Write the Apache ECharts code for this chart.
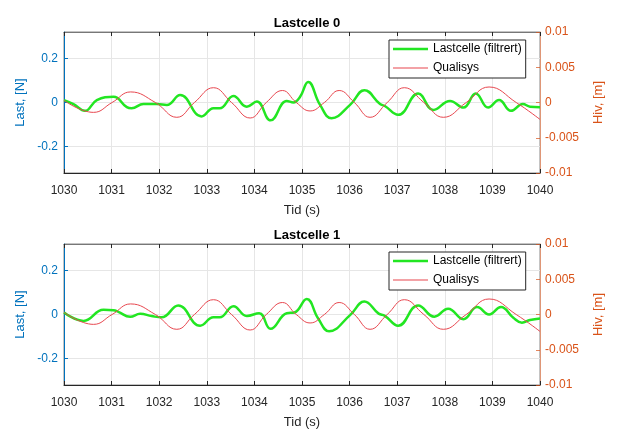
<!DOCTYPE html>
<html><head><meta charset="utf-8">
<script src="https://cdn.jsdelivr.net/npm/echarts@6/dist/echarts.min.js"></script>
<style>html,body{margin:0;padding:0;background:#fff}#c{width:620px;height:432px}</style>
</head><body><div id="c"></div>
<script>
// ---- data ----
const xTicks = [1030,1031,1032,1033,1034,1035,1036,1037,1038,1039,1040];
const leftTicks = [-0.2, 0, 0.2];
const rightTicks = [-0.01, -0.005, 0, 0.005, 0.01];

const titles = ['Lastcelle 0', 'Lastcelle 1'];
const seriesNames = ['Lastcelle (filtrert)', 'Qualisys'];

// Lastcelle 0 (filtered load cell) [N]
const t0 = [1030, 1030.2, 1030.44, 1030.69, 1031.04, 1031.32, 1031.42, 1031.67, 1031.95, 1032.16, 1032.44, 1032.89, 1033.14, 1033.27, 1033.56, 1033.84, 1034.05, 1034.34, 1034.68, 1034.82, 1034.96, 1035.13, 1035.38, 1035.62, 1036.01, 1036.31, 1036.64, 1036.74, 1037.02, 1037.44, 1037.76, 1038.11, 1038.39, 1038.65, 1038.91, 1039.14, 1039.39, 1039.64, 1039.79, 1040];
const v0 = [0.011, -0.007, -0.038, 0.011, 0.026, -0.021, -0.026, -0.007, -0.007, -0.011, 0.034, -0.063, -0.026, -0.026, 0.029, -0.019, 0.004, -0.081, 0.007, 0.0, 0.026, 0.093, -0.011, -0.071, -0.011, 0.056, -0.007, -0.016, -0.056, 0.041, -0.034, 0.007, -0.023, 0.041, -0.023, 0.011, -0.038, -0.007, -0.019, -0.021];

// Lastcelle 1 (filtered load cell) [N]
const t1 = [1030, 1030.41, 1030.83, 1031.04, 1031.14, 1031.39, 1031.6, 1031.84, 1032.05, 1032.40, 1032.86, 1033.14, 1033.27, 1033.56, 1033.84, 1034.10, 1034.34, 1034.68, 1034.84, 1035.10, 1035.34, 1035.57, 1036.01, 1036.31, 1036.61, 1036.74, 1037.02, 1037.44, 1037.78, 1038.07, 1038.39, 1038.68, 1038.93, 1039.18, 1039.44, 1039.62, 1039.79, 1040];
const v1 = [0.009, -0.029, 0.021, 0.019, 0.012, -0.010, 0.003, -0.007, -0.013, 0.041, -0.051, -0.013, -0.013, 0.038, -0.007, 0.006, -0.065, 0.006, 0.009, 0.070, -0.018, -0.076, -0.003, 0.059, 0.004, -0.006, -0.051, 0.041, -0.010, 0.026, -0.021, 0.034, 0.0, 0.034, -0.015, -0.037, -0.025, -0.018];

// Qualisys heave [m]
const tQ = [1030, 1030.62, 1031.01, 1031.40, 1031.92, 1032.37, 1032.74, 1033.14, 1033.52, 1033.91, 1034.25, 1034.59, 1034.88, 1035.17, 1035.47, 1035.78, 1036.1, 1036.43, 1036.79, 1037.15, 1037.56, 1037.97, 1038.45, 1038.93, 1039.5, 1040];
const vQ = [0.0003, -0.0014, 0, 0.0015, 0, -0.0021, 0, 0.0021, 0, -0.0022, 0, 0.0017, 0, -0.0012, 0, 0.0017, 0, -0.0021, 0, 0.0021, 0, -0.0021, 0, 0.0022, 0, -0.0024];

// ---- chart ----
const FONT = 'Liberation Sans, Arial, sans-serif';
const DARK = '#262626';
const BLUE = '#0072BD';
const ORANGE = '#D95319';
const GREEN = '#22E622';
const RED = '#E8474F';
const zip = (a, b) => a.map((x, i) => [x, b[i]]);

const gridTops = [32, 244];
const gridH = 141;
const option = {
  animation: false,
  backgroundColor: '#fff',
  textStyle: { fontFamily: FONT },
  title: titles.map((txt, i) => ({
    text: txt, left: 302, top: gridTops[i] - 20, textAlign: 'center',
    textStyle: { fontFamily: FONT, fontSize: 13, fontWeight: 'bold', color: '#000' }
  })),
  legend: [0, 1].map(i => ({
    orient: 'vertical', left: 389, top: gridTops[i] + 8,
    backgroundColor: '#fff', borderColor: DARK, borderWidth: 1,
    padding: [2, 4, 3, 4], itemGap: 5, itemWidth: 35, itemHeight: 14,
    textStyle: { fontFamily: FONT, fontSize: 12, color: '#000' },
    data: [
      { name: seriesNames[0], icon: 'path://M0,0 M35,14 M0,5.75 L35,5.75 L35,8.25 L0,8.25 Z', itemStyle: { color: GREEN } },
      { name: seriesNames[1], icon: 'path://M0,0 M35,14 M0,6.5 L35,6.5 L35,7.5 L0,7.5 Z', itemStyle: { color: RED } }
    ],
    selectedMode: false
  })),
  grid: gridTops.map(top => ({
    left: 64, top: top, width: 476, height: gridH,
    show: true, borderColor: '#888', borderWidth: 1, backgroundColor: 'transparent'
  })),
  xAxis: [].concat(...[0, 1].map(i => [
    {
      type: 'value', gridIndex: i, min: 1030, max: 1040, interval: 1,
      position: 'bottom',
      name: 'Tid (s)', nameLocation: 'middle', nameGap: 31,
      nameTextStyle: { fontFamily: FONT, fontSize: 13, color: DARK },
      axisLine: { show: true, onZero: false, lineStyle: { color: DARK, width: 1 } },
      axisTick: { show: true, inside: true, length: 4, lineStyle: { color: DARK } },
      axisLabel: { fontFamily: FONT, fontSize: 12, color: DARK, margin: 12,
                   formatter: v => String(v) },
      splitLine: { show: true, lineStyle: { color: '#E6E6E6', width: 1 } }
    },
    {
      type: 'value', gridIndex: i, min: 1030, max: 1040, interval: 1,
      position: 'top',
      axisLine: { show: true, onZero: false, lineStyle: { color: '#777', width: 1 } },
      axisTick: { show: true, inside: true, length: 4, lineStyle: { color: DARK } },
      axisLabel: { show: false }, splitLine: { show: false }
    }
  ])),
  yAxis: [].concat(...[0, 1].map(i => [
    {
      type: 'value', gridIndex: i, min: -0.32, max: 0.32, position: 'left',
      name: 'Last, [N]', nameLocation: 'middle', nameGap: 34,
      nameTextStyle: { fontFamily: FONT, fontSize: 13, color: BLUE },
      axisLine: { show: true, onZero: false, lineStyle: { color: BLUE, width: 1 } },
      axisTick: { show: true, inside: true, length: 4, lineStyle: { color: BLUE }, customValues: leftTicks },
      axisLabel: { fontFamily: FONT, fontSize: 12, color: BLUE, margin: 6, customValues: leftTicks,
                   formatter: v => String(Math.round(v * 10) / 10) },
      splitLine: { show: true, lineStyle: { color: '#E6E6E6', width: 1 } }
    },
    {
      type: 'value', gridIndex: i, min: -0.01, max: 0.01, interval: 0.005, position: 'right',
      name: 'Hiv, [m]', nameLocation: 'middle', nameGap: 52, nameRotate: 90,
      nameTextStyle: { fontFamily: FONT, fontSize: 13, color: ORANGE },
      axisLine: { show: true, onZero: false, lineStyle: { color: 'rgba(217,83,25,0.55)', width: 1 } },
      axisTick: { show: true, inside: true, length: 4, lineStyle: { color: 'rgba(217,83,25,0.7)' } },
      axisLabel: { fontFamily: FONT, fontSize: 12, color: ORANGE, margin: 5,
                   formatter: v => String(Math.round(v * 1000) / 1000) },
      splitLine: { show: false }
    }
  ])),
  series: [
    { name: seriesNames[0], type: 'line', xAxisIndex: 0, yAxisIndex: 0, data: zip(t0, v0),
      smooth: 0.45, symbol: 'none', lineStyle: { color: GREEN, width: 2.5 }, itemStyle: { color: GREEN } },
    { name: seriesNames[1], type: 'line', xAxisIndex: 0, yAxisIndex: 1, data: zip(tQ, vQ),
      smooth: 0.45, symbol: 'none', lineStyle: { color: RED, width: 1 }, itemStyle: { color: RED } },
    { name: seriesNames[0], type: 'line', xAxisIndex: 2, yAxisIndex: 2, data: zip(t1, v1),
      smooth: 0.45, symbol: 'none', lineStyle: { color: GREEN, width: 2.5 }, itemStyle: { color: GREEN } },
    { name: seriesNames[1], type: 'line', xAxisIndex: 2, yAxisIndex: 3, data: zip(tQ, vQ),
      smooth: 0.45, symbol: 'none', lineStyle: { color: RED, width: 1 }, itemStyle: { color: RED } }
  ]
};
const chart = echarts.init(document.getElementById('c'), null, { renderer: 'canvas' });
chart.setOption(option);
</script>
</body></html>
